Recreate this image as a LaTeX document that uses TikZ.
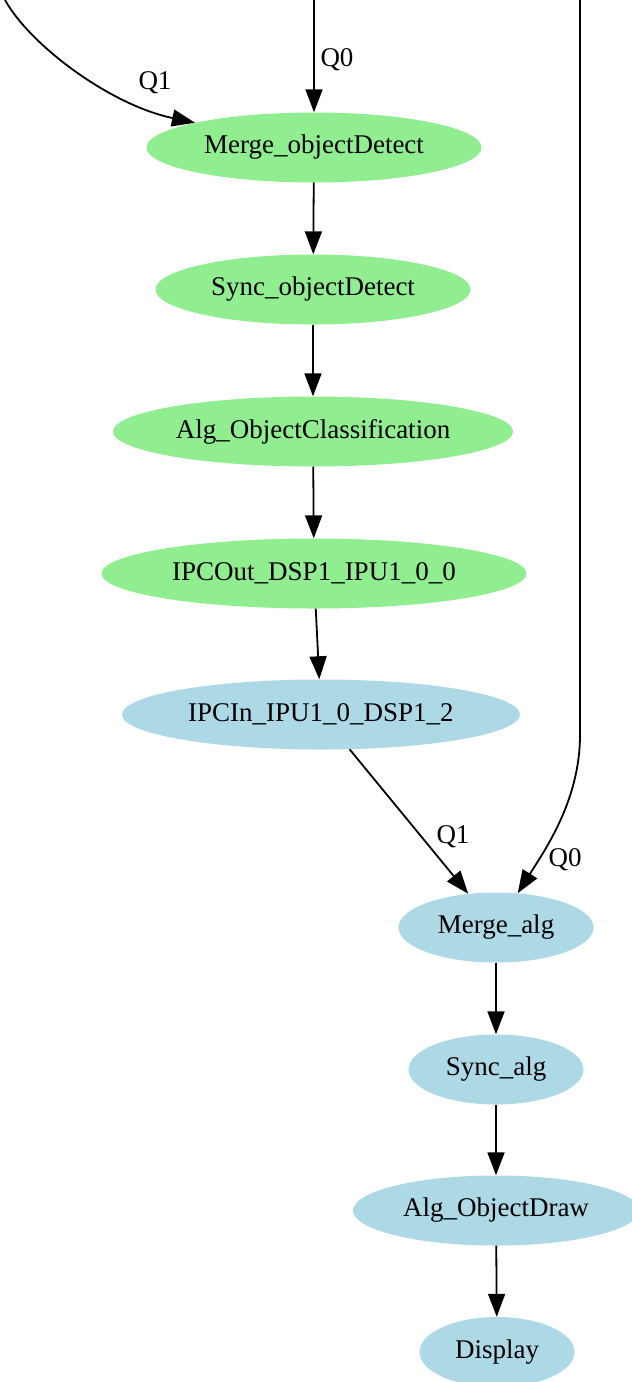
\documentclass[tikz,border=0pt]{standalone}
\usepackage{fontspec}
\setmainfont{Liberation Serif}
\usetikzlibrary{arrows.meta,shapes.geometric}
\definecolor{gvgreen}{HTML}{90EE90}
\definecolor{gvblue}{HTML}{ADD8E6}
\tikzset{
  gnode/.style={ellipse, fill=gvgreen, draw=none, inner sep=0pt, minimum height=70pt, font=\fontsize{27}{32}\selectfont},
  bnode/.style={ellipse, fill=gvblue, draw=none, inner sep=0pt, minimum height=70pt, font=\fontsize{27}{32}\selectfont},
  edge/.style={line width=1.8pt, -{Triangle[length=23pt,width=17pt]}},
  elabel/.style={font=\fontsize{27}{32}\selectfont, inner sep=0pt}
}
\begin{document}
\begin{tikzpicture}[x=1pt,y=-1pt]
\useasboundingbox (0,0) rectangle (632,1382);
\fill[white] (0,0) rectangle (632,1382);

\node[gnode, minimum width=335pt] (MOD) at (314,147.5) {Merge\_objectDetect};
\node[gnode, minimum width=315pt] (SOD) at (313,289.5) {Sync\_objectDetect};
\node[gnode, minimum width=400pt] (AOC) at (313,431.5) {Alg\_ObjectClassification};
\node[gnode, minimum width=425pt] (IPO) at (314,573.5) {IPCOut\_DSP1\_IPU1\_0\_0};
\node[bnode, minimum width=398pt] (IPI) at (321,714.5) {IPCIn\_IPU1\_0\_DSP1\_2};
\node[bnode, minimum width=195pt] (MA) at (496,927.5) {Merge\_alg};
\node[bnode, minimum width=175pt] (SA) at (496,1069.5) {Sync\_alg};
\node[bnode, minimum width=286pt] (AOD) at (496,1210.5) {Alg\_ObjectDraw};
\node[bnode, minimum width=155pt] (DSP) at (497,1352) {Display};

\coordinate (q1s) at (5,0);
\coordinate (q0s) at (314,0);
\coordinate (r0) at (580,0);

\draw[edge] (q1s) .. controls (30,45) and (110,105) .. (MOD);
\draw[edge] (q0s) -- (MOD);
\draw[edge] (MOD) -- (SOD);
\draw[edge] (SOD) -- (AOC);
\draw[edge] (AOC) -- (IPO);
\draw[edge] (IPO) -- (IPI);
\draw[edge] (IPI) -- (MA);
\draw[edge] (r0) -- (580,735) .. controls (580,800) and (545,850) .. (MA);
\draw[edge] (MA) -- (SA);
\draw[edge] (SA) -- (AOD);
\draw[edge] (AOD) -- (DSP);

\node[elabel] (l1) at (155,83) {Q1};
\node[elabel] (l2) at (337,60) {Q0};
\node[elabel] (l3) at (453,837) {Q1};
\node[elabel] (l4) at (565,860) {Q0};
\end{tikzpicture}
\end{document}
